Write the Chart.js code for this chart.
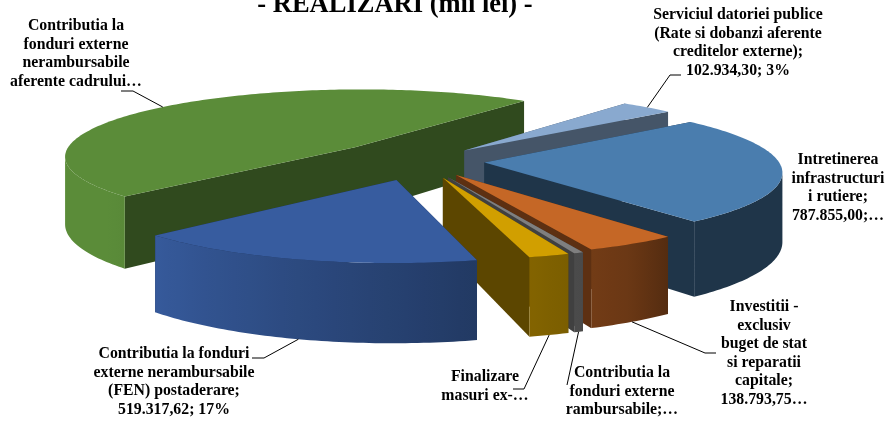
<!DOCTYPE html>
<html>
<head>
<meta charset="utf-8">
<title>Realizari</title>
<script src="https://cdn.jsdelivr.net/npm/chart.js@4/dist/chart.umd.min.js"></script>
<style>
  html, body { margin: 0; padding: 0; background: #fff; }
  canvas { display: block; }
</style>
</head>
<body>
<canvas id="chart" width="889" height="423"></canvas>
<script>
// values, the two thin slices and the big green one are estimates
var categories = [
  'Serviciul datoriei publice (Rate si dobanzi aferente creditelor externe)',
  'Intretinerea infrastructurii rutiere',
  'Investitii - exclusiv buget de stat si reparatii capitale',
  'Contributia la fonduri externe rambursabile',
  'Finalizare masuri ex-ISPA',
  'Contributia la fonduri externe nerambursabile (FEN) postaderare',
  'Contributia la fonduri externe nerambursabile aferente cadrului financiar'
];
var values = [102934.30, 787855.00, 138793.75, 14000, 60000, 519317.62, 1494100];
var explode = [28, 28, 30, 32, 32, 36, 39];
var topColors = ['#89a9cf', '#4a7dae', '#c56726', '#7f7f7f', '#d19f00', '#375c9f', '#5b8c39'];
var wallShades = [0.5, 0.42, 0.47, 0.5, 0.44, 0.5, 0.53];
var paintOrder = [6, 0, 1, 2, 3, 4, 5];

var titleText = '- REALIZARI (mii lei) -';
var labelLines = [
  ['Serviciul datoriei publice', '(Rate si dobanzi aferente', 'creditelor externe);', '102.934,30; 3%'],
  ['Intretinerea', 'infrastructuri', 'i rutiere;', '787.855,00;…'],
  ['Investitii -', 'exclusiv', 'buget de stat', 'si reparatii', 'capitale;', '138.793,75…'],
  ['Contributia la', 'fonduri externe', 'rambursabile;…'],
  ['Finalizare', 'masuri ex-…'],
  ['Contributia la fonduri', 'externe nerambursabile', '(FEN) postaderare;', '519.317,62; 17%'],
  ['Contributia la', 'fonduri externe', 'nerambursabile', 'aferente cadrului…']
];
// label centre x, first line centre y
var labelPlaces = [[738, 15], [838, 160], [764, 307], [622, 373], [485, 377], [174, 354], [76, 26]];
// leader: elbow then end of the line, null for the steel blue slice which has none
var leaderBends = [
  [[670, 75], [681, 75]],
  null,
  [[705, 353], [716, 353]],
  [[567, 385]],
  [[524, 389], [513, 389]],
  [[264, 358], [252, 358]],
  [[133, 91], [121, 91]]
];
var leaderOnTop = [true, false, false, false, false, false, true];

// fake 3D camera
var RX = 294, RY = 68, DEPTH = 68, PERSP = 0.12;
var LINE_H = 18.5;
var SHADE_STOPS = [[90, 0.42], [141, 0.42], [150, 0.54], [165, 0.62], [230, 1], [270, 1]];

function project(arc, u, v, z) {
  var d = 1 - PERSP * v;
  return { x: arc.x + RX * u / d, y: arc.y + (RY * v + z * DEPTH) / d };
}

function shadeFor(theta) {
  var deg = (theta * 180 / Math.PI + 90) % 360;
  if (deg < 0) deg += 360;
  if (deg <= SHADE_STOPS[0][0]) return SHADE_STOPS[0][1];
  for (var i = 1; i < SHADE_STOPS.length; i++) {
    if (deg <= SHADE_STOPS[i][0]) {
      var a = SHADE_STOPS[i - 1], b = SHADE_STOPS[i];
      return a[1] + (b[1] - a[1]) * (deg - a[0]) / (b[0] - a[0]);
    }
  }
  return 1;
}

function darken(hex, f) {
  var n = parseInt(hex.slice(1), 16);
  return 'rgb(' + Math.round((n >> 16) * f) + ',' + Math.round(((n >> 8) & 255) * f) + ',' + Math.round((n & 255) * f) + ')';
}

function poly(ctx, pts, fill) {
  ctx.fillStyle = fill;
  ctx.beginPath();
  pts.forEach(function (p, i) { if (i) ctx.lineTo(p.x, p.y); else ctx.moveTo(p.x, p.y); });
  ctx.closePath();
  ctx.fill();
}

function sliceGeom(arc) {
  var mid = (arc.startAngle + arc.endAngle) / 2;
  var off = arc.options.offset / arc.outerRadius;
  return { mid: mid, ou: Math.cos(mid) * off, ov: Math.sin(mid) * off };
}

function drawSlice(ctx, arc, i) {
  var g = sliceGeom(arc);
  var color = topColors[i];
  var wall = darken(color, wallShades[i]);
  var rim = function (t, z) { return project(arc, g.ou + Math.cos(t), g.ov + Math.sin(t), z); };
  var apex = function (z) { return project(arc, g.ou, g.ov, z); };

  // radial walls, the one further back first
  var ends = [arc.startAngle, arc.endAngle];
  ends.sort(function (a, b) { return Math.sin(a) - Math.sin(b); });
  ends.forEach(function (t) {
    poly(ctx, [apex(0), rim(t, 0), rim(t, 1), apex(1)], wall);
  });

  // outer wall: the part turned to the camera, cut where the rim turns back on screen
  var step = Math.PI / 180;
  var angles = [];
  for (var t = arc.startAngle; t < arc.endAngle; t += step) {
    if (Math.sin(t) >= -0.3) angles.push(t);
  }
  if (Math.sin(arc.endAngle) >= -0.3) angles.push(arc.endAngle);
  var rimX = function (a) { return rim(a, 0).x; };
  var xs = angles.map(rimX);
  var kMax = xs.indexOf(Math.max.apply(null, xs));
  if (kMax > 0) angles = angles.slice(kMax);
  xs = angles.map(rimX);
  var kMin = xs.indexOf(Math.min.apply(null, xs));
  if (kMin > 0 && kMin < angles.length - 1) angles = angles.slice(0, kMin + 1);

  if (angles.length > 1) {
    var topEdge = angles.map(function (a) { return rim(a, 0); });
    var lowEdge = angles.map(function (a) { return rim(a, 1); }).reverse();
    xs = topEdge.map(function (p) { return p.x; });
    var x0 = Math.min.apply(null, xs), x1 = Math.max.apply(null, xs);
    var grad = ctx.createLinearGradient(x0, 0, x1, 0);
    angles.forEach(function (a, k) {
      if (k % 3 === 0 || k === angles.length - 1) {
        grad.addColorStop((topEdge[k].x - x0) / (x1 - x0), darken(color, shadeFor(a)));
      }
    });
    poly(ctx, topEdge.concat(lowEdge), grad);
  }

  // top face
  var top = [apex(0)];
  for (var a = arc.startAngle; a < arc.endAngle; a += step) top.push(rim(a, 0));
  top.push(rim(arc.endAngle, 0));
  poly(ctx, top, color);
}

function drawLeader(ctx, arc, i) {
  if (!leaderBends[i]) return;
  var g = sliceGeom(arc);
  var p = project(arc, g.ou + Math.cos(g.mid), g.ov + Math.sin(g.mid), leaderOnTop[i] ? 0 : 1);
  ctx.strokeStyle = '#000';
  ctx.lineWidth = 1;
  ctx.beginPath();
  ctx.moveTo(p.x, p.y);
  leaderBends[i].forEach(function (b) { ctx.lineTo(b[0], b[1]); });
  ctx.stroke();
}

function drawLabels(ctx) {
  ctx.fillStyle = '#000';
  ctx.textAlign = 'center';
  ctx.textBaseline = 'middle';
  ctx.font = 'bold 15.8px "Liberation Serif"';
  labelLines.forEach(function (lines, i) {
    lines.forEach(function (s, j) {
      ctx.fillText(s, labelPlaces[i][0], labelPlaces[i][1] + j * LINE_H);
    });
  });
  ctx.font = 'bold 26.5px "Liberation Serif"';
  ctx.fillText(titleText, 395, 5);
}

var pie3d = {
  id: 'pie3d',
  beforeDatasetDraw: function (chart, args) {
    var ctx = chart.ctx;
    var arcs = args.meta.data;
    ctx.save();
    ctx.lineJoin = 'round';
    paintOrder.forEach(function (i) { drawSlice(ctx, arcs[i], i); });
    paintOrder.forEach(function (i) { drawLeader(ctx, arcs[i], i); });
    drawLabels(ctx);
    ctx.restore();
    return false; // the flat arcs are replaced by the drawing above
  }
};

new Chart(document.getElementById('chart').getContext('2d'), {
  type: 'pie',
  data: {
    labels: categories,
    datasets: [{ data: values, backgroundColor: topColors, borderWidth: 0, offset: explode }]
  },
  options: {
    responsive: false,
    animation: false,
    rotation: 38.5,
    layout: { padding: { left: 0, right: 49, top: 14, bottom: 115 } },
    plugins: { legend: { display: false }, tooltip: { enabled: false }, title: { display: false } }
  },
  plugins: [pie3d]
});
</script>
</body>
</html>
